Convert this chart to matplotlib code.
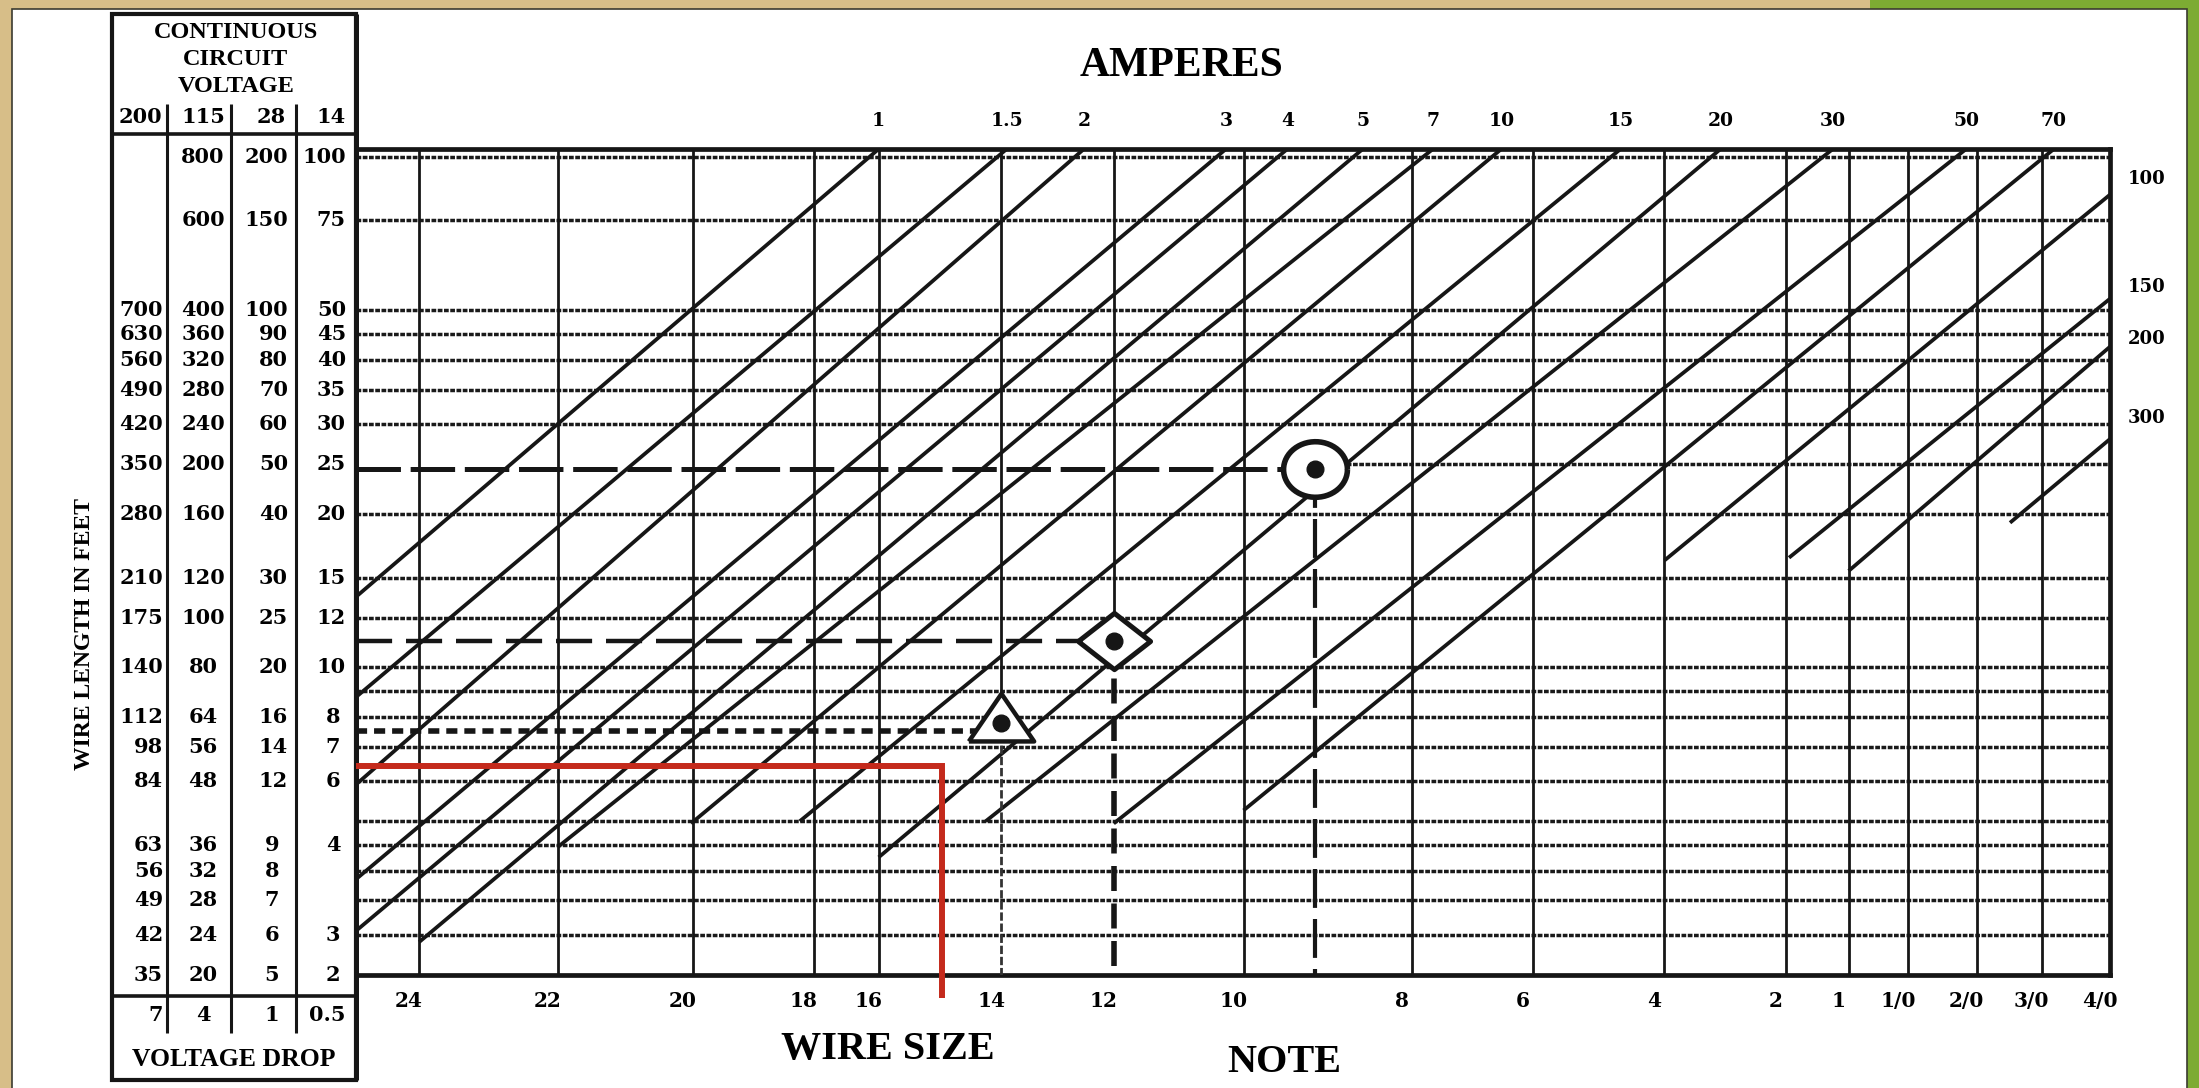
import numpy as np
import matplotlib.pyplot as plt
from matplotlib import transforms
from matplotlib.patches import Rectangle, Polygon

plt.rcParams['lines.scale_dashes'] = False
plt.rcParams['lines.solid_capstyle'] = 'butt'

W, H = 2199, 1088
INK = '#161616'
NUM = ['DejaVu Serif']
WORD = ['Liberation Serif', 'DejaVu Serif']

# ---- values ----
# x is the position across the grid in % of its width, y is wire length in ft (28 V column)
wire_sizes = ['24', '22', '20', '18', '16', '14', '12', '10', '8', '6', '4', '2', '1', '1/0', '2/0', '3/0', '4/0']
wire_pos = [3.6, 11.5, 19.2, 26.1, 29.8, 36.8, 43.2, 50.6, 60.2, 67.1, 74.6, 81.5, 85.1, 88.5, 92.4, 96.1, 100.0]

amp_top = ['1', '1.5', '2', '3', '4', '5', '7', '10', '15', '20', '30', '50', '70']
amp_top_pos = [29.8, 37.1, 41.5, 49.6, 53.1, 57.4, 61.4, 65.3, 72.1, 77.8, 84.2, 91.8, 96.8]
amp_right = ['100', '150', '200', '300']
amp_right_len = [181, 111, 88, 61.5]

grid_len = [200, 150, 100, 90, 80, 70, 60, 50, 40, 30, 25, 20, 18, 16, 14, 12, 10, 9, 8, 7, 6]

# current lines: upper end and lower end
diag_x_hi = [29.8, 37.1, 41.5, 49.6, 53.1, 57.4, 61.4, 65.3, 72.1, 77.8, 84.2, 91.8, 96.8, 100, 100, 100, 100]
diag_len_hi = [207, 207, 207, 207, 207, 207, 207, 207, 207, 207, 207, 207, 207, 168.5, 105.4, 84.9, 56.0]
diag_x_lo = [0, 0, 0, 0, 0, 3.6, 11.5, 19.1, 25.3, 29.8, 35.9, 43.2, 50.6, 74.6, 81.7, 85.1, 94.3]
diag_len_lo = [27.5, 17.5, 11.8, 7.7, 6.1, 5.8, 8.9, 9.9, 10.0, 8.5, 10.0, 9.9, 10.5, 32.4, 32.8, 30.9, 38.4]

# left-hand table (rows follow the 28 V column)
row_len = [200, 150, 100, 90, 80, 70, 60, 50, 40, 30, 25, 20, 16, 14, 12, 9, 8, 7, 6, 5]
col_200 = ['', '', '700', '630', '560', '490', '420', '350', '280', '210', '175', '140', '112', '98', '84', '63', '56', '49', '42', '35']
col_115 = ['800', '600', '400', '360', '320', '280', '240', '200', '160', '120', '100', '80', '64', '56', '48', '36', '32', '28', '24', '20']
col_28 = ['200', '150', '100', '90', '80', '70', '60', '50', '40', '30', '25', '20', '16', '14', '12', '9', '8', '7', '6', '5']
col_14 = ['100', '75', '50', '45', '40', '35', '30', '25', '20', '15', '12', '10', '8', '7', '6', '4', '', '', '3', '2']
volts = ['200', '115', '28', '14']
drops = ['7', '4', '1', '0.5']

# worked examples: circle, diamond, triangle (marker and its guide row)
ex_pos = [54.7, 43.2, 36.8]
ex_len = [49, 22.5, 15.6]
ex_guide = [49, 22.5, 15.0]

# red reading line
red_pos = 33.4
red_len = 12.8

fig = plt.figure(figsize=(W / 100, H / 100), dpi=100)
fig.patch.set_facecolor('#d7be88')

bg = fig.add_axes([0, 0, 1, 1])
bg.set_xlim(0, W)
bg.set_ylim(H, 0)
bg.axis('off')

bg.add_patch(Polygon([[1870, 0], [W, 0], [W, H], [2187, H], [2187, 9], [1870, 9]],
                     closed=True, fc='#7dab33', ec='none'))
bg.add_patch(Rectangle((12, 9), 2175, H, fc='white', ec='#3b3b30', lw=1.2))

ax = fig.add_axes([356 / W, (H - 975) / H, (2110 - 356) / W, (975 - 149) / H], zorder=3)
ax.set_xlim(0, 100)
ax.set_yscale('log')
ax.set_ylim(5, 207)
ax.tick_params(which='both', length=0, labelleft=False, labelbottom=False)
ax.patch.set_visible(False)
for sp in ax.spines.values():
    sp.set_linewidth(3.4)
    sp.set_color(INK)

# dotted length rows
for L in grid_len:
    x0 = ex_pos[0] if L == 50 else 0
    ax.plot([x0, 100], [L, L], color='#1a1a1a', lw=2.5, ls=(0, (3.4, 1.1)), zorder=1)

# wire size lines
for s, x in zip(wire_sizes, wire_pos):
    if x >= 100:
        continue
    if x in ex_pos:
        L = ex_len[ex_pos.index(x)]
        ax.plot([x, x], [207, L], color=INK, lw=2.0, zorder=2)
    else:
        ax.axvline(x, color=INK, lw=2.0, zorder=2)

# current lines
for x0, y0, x1, y1 in zip(diag_x_hi, diag_len_hi, diag_x_lo, diag_len_lo):
    ax.plot([x0, x1], [y0, y1], color=INK, lw=2.7, zorder=2)

# example guide lines
ax.plot([0, ex_pos[0]], [ex_guide[0]] * 2, color=INK, lw=3.6, ls=(0, (32, 7)), zorder=3)
ax.plot([ex_pos[0]] * 2, [ex_len[0], 5], color=INK, lw=3.0, ls=(0, (28, 8)), zorder=3)
ax.plot([0, ex_pos[1]], [ex_guide[1]] * 2, color=INK, lw=3.2, ls=(0, (26, 10)), zorder=3)
ax.plot([ex_pos[1]] * 2, [ex_len[1], 5], color=INK, lw=4.0, ls=(0, (18, 9)), zorder=3)
ax.plot([0, ex_pos[2]], [ex_guide[2]] * 2, color=INK, lw=4.0, ls=(0, (8, 5)), zorder=3)
ax.plot([ex_pos[2]] * 2, [ex_len[2], 5], color='#333333', lw=2.0, ls=(0, (6, 2)), zorder=3)

t = np.linspace(0, 2 * np.pi, 60)
ring = np.column_stack([np.cos(t), 0.87 * np.sin(t)])
diamond = [(-1, 0), (0, 0.78), (1, 0), (0, -0.78), (-1, 0)]
tri = [(-1, -0.55), (1, -0.55), (0, 0.91), (-1, -0.55)]
ax.plot(ex_pos[0], ex_len[0], marker=ring, ms=46, mfc='white', mec=INK, mew=4.0, zorder=5)
ax.plot(ex_pos[1], ex_len[1], marker=diamond, ms=52, mfc='white', mec=INK, mew=3.6, zorder=5)
ax.plot(ex_pos[2], ex_len[2], marker=tri, ms=47, mfc='white', mec=INK, mew=3.2, zorder=5)
for x, L in zip(ex_pos, ex_len):
    ax.plot(x, L, 'o', ms=12, color=INK, zorder=6)

ax.plot([0, red_pos, red_pos], [red_len, red_len, 4.5], color='#c42a1c', lw=4.3,
        clip_on=False, solid_joinstyle='miter', zorder=7)

# ---- labels ----
tx_bot = transforms.blended_transform_factory(ax.transData, bg.transData)
tx_side = transforms.blended_transform_factory(bg.transData, ax.transData)

bg.text(1182, 66, 'AMPERES', ha='center', va='center', fontsize=30, weight='bold', family=WORD)
for s, x in zip(amp_top, amp_top_pos):
    bg.text(x, 121, s, transform=tx_bot, ha='center', va='center', fontsize=13.5, weight='bold', family=NUM)
for s, L in zip(amp_right, amp_right_len):
    bg.text(2147, L, s, transform=tx_side, ha='center', va='center', fontsize=13, weight='bold', family=NUM)

lab_tr = transforms.offset_copy(tx_bot, fig=fig, x=-10, y=0, units='dots')
for s, x in zip(wire_sizes, wire_pos):
    bg.text(x, 1001, s, transform=lab_tr, ha='center', va='center', fontsize=14.5, weight='bold', family=NUM)

bg.text(888, 1049, 'WIRE SIZE', ha='center', va='center', fontsize=29, weight='bold', family=WORD)
bg.text(1284, 1063, 'NOTE', ha='center', va='center', fontsize=29, weight='bold', family=WORD)
bg.text(85, 634, 'WIRE LENGTH IN FEET', ha='center', va='center', rotation=90, fontsize=17,
        weight='bold', family=WORD)

# table frame
bg.add_patch(Rectangle((112, 14), 244, 1066, fc='none', ec=INK, lw=3.0))
bg.plot([356, 356], [14, 1080], color=INK, lw=3.6)
bg.plot([112, 356], [134, 134], color=INK, lw=2.6)
bg.plot([112, 356], [996, 996], color=INK, lw=2.6)
for xd in [167, 231, 296]:
    bg.plot([xd, xd], [104, 1033], color=INK, lw=2.2)

for i, s in enumerate(['CONTINUOUS', 'CIRCUIT', 'VOLTAGE']):
    bg.text(236, 33 + 26.5 * i, s, ha='center', va='center', fontsize=17.5, weight='bold', family=WORD)
for s, x in zip(volts, [140, 203, 271, 331]):
    bg.text(x, 117, s, ha='center', va='center', fontsize=15, weight='bold', family=NUM)


def cell(s, col, y, tr):
    if not s:
        return
    kw = dict(transform=tr, va='center', fontsize=15, weight='bold', family=NUM)
    if col == 0:
        bg.text(163, y, s, ha='right', **kw)
    elif col == 1:
        bg.text(203, y, s, ha='center', **kw)
    elif col == 2:
        if len(s) > 1:
            bg.text(288, y, s, ha='right', **kw)
        else:
            bg.text(272, y, s, ha='center', **kw)
    else:
        if len(s) > 1:
            bg.text(346, y, s, ha='right', **kw)
        else:
            bg.text(333, y, s, ha='center', **kw)


for i, L in enumerate(row_len):
    for c, col in enumerate([col_200, col_115, col_28, col_14]):
        cell(col[i], c, L, tx_side)
for c, s in enumerate(drops):
    cell(s, c, 1015, bg.transData)
bg.text(234, 1059, 'VOLTAGE DROP', ha='center', va='center', fontsize=18.5, weight='bold', family=WORD)

fig.savefig('out.png', dpi=100, facecolor=fig.get_facecolor())
